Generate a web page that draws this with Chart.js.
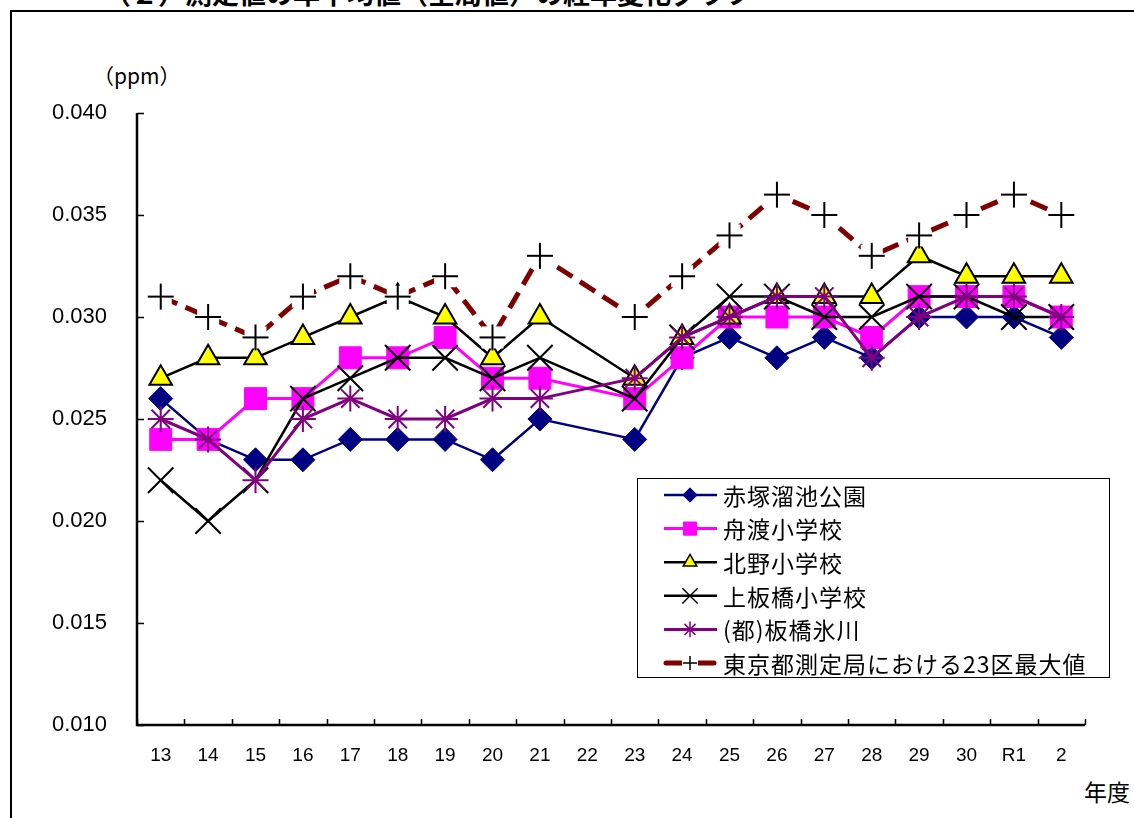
<!DOCTYPE html>
<html>
<head>
<meta charset="utf-8">
<script src="https://cdn.jsdelivr.net/npm/chart.js@4.4.1/dist/chart.umd.min.js"></script>
<style>
    html, body { margin: 0; padding: 0; background: #fff; }
    body { width: 1134px; height: 818px; position: relative; overflow: hidden; }
    #frame { position: absolute; left: 10px; top: 10px; width: 1130px; height: 820px;
             border-left: 2px solid #000; border-top: 2px solid #000; }
    #title { position: absolute; left: 104px; top: -27px; font: bold 27px "Noto Sans CJK JP"; white-space: nowrap; }
    #unit { position: absolute; left: 93px; top: 60px; font: 21px "Noto Sans CJK JP"; }
    #xname { position: absolute; left: 1084px; top: 774px; font: 23px "Noto Sans CJK JP"; }
    #wrap { position: absolute; left: 0; top: 0; width: 1134px; height: 818px; }
</style>
</head>
<body>
<div id="title">（２）測定値の年平均値（全局値）の経年変化グラフ</div>
<div id="frame"></div>
<div id="unit">（ppm）</div>
<div id="xname">年度</div>
<div id="wrap"><canvas id="chart"></canvas></div>
<script>
const years = ['13', '14', '15', '16', '17', '18', '19', '20', '21', '22', '23', '24', '25', '26', '27', '28', '29', '30', 'R1', '2'];
const yTicks = [0.010, 0.015, 0.020, 0.025, 0.030, 0.035, 0.040];

const akatsuka  = [0.026, 0.024, 0.023, 0.023, 0.024, 0.024, 0.024, 0.023, 0.025, null, 0.024, 0.028, 0.029, 0.028, 0.029, 0.028, 0.030, 0.030, 0.030, 0.029];
const funado    = [0.024, 0.024, 0.026, 0.026, 0.028, 0.028, 0.029, 0.027, 0.027, null, 0.026, 0.028, 0.030, 0.030, 0.030, 0.029, 0.031, 0.031, 0.031, 0.030];
const kitano    = [0.027, 0.028, 0.028, 0.029, 0.030, 0.031, 0.030, 0.028, 0.030, null, 0.027, 0.029, 0.030, 0.031, 0.031, 0.031, 0.033, 0.032, 0.032, 0.032];
const kamiita   = [0.022, 0.020, 0.022, 0.026, 0.027, 0.028, 0.028, 0.027, 0.028, null, 0.026, 0.029, 0.031, 0.031, 0.030, 0.030, 0.031, 0.031, 0.030, 0.030];
const hikawa    = [0.025, 0.024, 0.022, 0.025, 0.026, 0.025, 0.025, 0.026, 0.026, null, 0.027, 0.029, 0.030, 0.031, 0.031, 0.028, 0.030, 0.031, 0.031, 0.030];
const tokyoMax  = [0.031, 0.030, 0.029, 0.031, 0.032, 0.031, 0.032, 0.029, 0.033, null, 0.030, 0.032, 0.034, 0.036, 0.035, 0.033, 0.034, 0.035, 0.036, 0.035];

const names = ['赤塚溜池公園', '舟渡小学校', '北野小学校', '上板橋小学校', '(都)板橋氷川', '東京都測定局における23区最大値'];

// + marker with a white backing, like the original
function plusMarker() {
    const c = document.createElement('canvas');
    c.width = c.height = 28;
    const g = c.getContext('2d');
    g.fillStyle = '#fff';
    g.fillRect(3, 3, 22, 22);
    g.strokeStyle = '#000';
    g.lineWidth = 2;
    g.beginPath();
    g.moveTo(14, 1); g.lineTo(14, 27);
    g.moveTo(1, 14); g.lineTo(27, 14);
    g.stroke();
    return c;
}
const plus = plusMarker();

const datasets = [
    { label: names[0], data: akatsuka, borderColor: '#000080', borderWidth: 2.5, pointStyle: 'rectRot', pointRadius: 12,
      pointBackgroundColor: '#000080', pointBorderColor: '#000080', pointBorderWidth: 1, order: 6 },
    { label: names[1], data: funado, borderColor: '#ff00ff', borderWidth: 3, pointStyle: 'rect', pointRadius: 15.5,
      pointBackgroundColor: '#ff00ff', pointBorderColor: '#ff00ff', pointBorderWidth: 1, order: 5 },
    { label: names[2], data: kitano, borderColor: '#000', borderWidth: 2.5, pointStyle: 'triangle', pointRadius: 13,
      pointBackgroundColor: '#ffff00', pointBorderColor: '#000', pointBorderWidth: 2, order: 4 },
    { label: names[3], data: kamiita, borderColor: '#000', borderWidth: 2.5, pointStyle: 'crossRot', pointRadius: 18,
      pointBackgroundColor: '#000', pointBorderColor: '#000', pointBorderWidth: 2, order: 3 },
    { label: names[4], data: hikawa, borderColor: '#800080', borderWidth: 3, pointStyle: 'star', pointRadius: 13,
      pointBackgroundColor: '#800080', pointBorderColor: '#800080', pointBorderWidth: 2, order: 2 },
    { label: names[5], data: tokyoMax, borderColor: '#800000', borderWidth: 5, borderDash: [18, 9], pointStyle: plus,
      pointBackgroundColor: '#000', pointBorderColor: '#000', order: 1 }
];

const axesPlugin = {
    id: 'axes',
    beforeDatasetsDraw(c) {
        const ctx = c.ctx, a = c.chartArea;
        const xs = c.scales.x, ys = c.scales.y;
        ctx.save();
        ctx.strokeStyle = '#000';
        ctx.lineWidth = 1.5;
        ctx.beginPath();
        // inward ticks on y
        ys.ticks.forEach((t, i) => {
            const y = Math.round(ys.getPixelForTick(i)) + 0.5;
            ctx.moveTo(a.left, y); ctx.lineTo(a.left + 7, y);
        });
        // inward ticks on x at category boundaries
        for (let i = 0; i <= years.length; i++) {
            const x = Math.round(xs.getPixelForValue(i - 0.5)) + 0.5;
            ctx.moveTo(x, a.bottom); ctx.lineTo(x, a.bottom - 6);
        }
        ctx.stroke();
        ctx.lineWidth = 2.5;
        ctx.beginPath();
        ctx.moveTo(a.left, a.top);
        ctx.lineTo(a.left, a.bottom);
        ctx.lineTo(a.right, a.bottom);
        ctx.stroke();
        ctx.restore();
    },
    afterDraw(c) {
        const ctx = c.ctx;
        const box = { x: 637, y: 478, w: 472, h: 199 };
        ctx.save();
        ctx.fillStyle = '#fff';
        ctx.fillRect(box.x, box.y, box.w, box.h);
        ctx.strokeStyle = '#000';
        ctx.lineWidth = 1;
        ctx.strokeRect(box.x + 0.5, box.y + 0.5, box.w, box.h);
        ctx.font = '23px "Noto Sans CJK JP"';
        ctx.letterSpacing = '1px';
        ctx.textBaseline = 'middle';
        datasets.forEach((ds, i) => {
            const y = 495 + i * 33.6;
            ctx.save();
            ctx.strokeStyle = ds.borderColor;
            ctx.lineWidth = ds.borderWidth;
            if (ds.borderDash) ctx.setLineDash([20, 8]);
            ctx.lineCap = ds.borderDash ? 'round' : 'butt';
            ctx.beginPath();
            ctx.moveTo(ds.borderDash ? 666 : 664, y);
            ctx.lineTo(ds.borderDash ? 715 : 717, y);
            ctx.stroke();
            ctx.restore();
            if (typeof ds.pointStyle === 'string') {
                ctx.fillStyle = ds.pointBackgroundColor;
                ctx.strokeStyle = ds.pointBorderColor;
                ctx.lineWidth = ds.pointBorderWidth > 1 ? 1.5 : 1;
                Chart.helpers.drawPoint(ctx, { pointStyle: ds.pointStyle, radius: ds.pointRadius * 0.6, rotation: 0, borderWidth: ctx.lineWidth }, 690, y);
            } else {
                ctx.fillStyle = '#fff';
                ctx.fillRect(682, y - 8, 16, 16);
                ctx.strokeStyle = '#000';
                ctx.lineWidth = 1.5;
                ctx.beginPath();
                ctx.moveTo(690, y - 7); ctx.lineTo(690, y + 7);
                ctx.moveTo(683, y); ctx.lineTo(697, y);
                ctx.stroke();
            }
            ctx.fillStyle = '#000';
            ctx.fillText(ds.label, 723, y + 1);
        });
        ctx.restore();
    }
};

new Chart(document.getElementById('chart'), {
    type: 'line',
    data: { labels: years, datasets },
    options: {
        responsive: true,
        maintainAspectRatio: false,
        animation: false,
        spanGaps: true,
        layout: { padding: { left: 0, right: 49, top: 113, bottom: 43 } },
        elements: { line: { tension: 0 } },
        plugins: { legend: { display: false }, tooltip: { enabled: false } },
        scales: {
            x: {
                offset: true,
                grid: { display: false, drawTicks: false },
                border: { display: false },
                ticks: { color: '#000', font: { family: 'Liberation Sans', size: 19 }, padding: 19, maxRotation: 0, autoSkip: false },
                afterFit: s => { s.height = 50; }
            },
            y: {
                min: 0.010,
                max: 0.040,
                afterBuildTicks: s => { s.ticks = yTicks.map(v => ({ value: v })); },
                grid: { display: false, drawTicks: false },
                border: { display: false },
                ticks: { color: '#000', font: { family: 'Liberation Sans', size: 22 }, padding: 30,
                         callback: v => v.toFixed(3) },
                afterFit: s => { s.width = 137; }
            }
        }
    },
    plugins: [axesPlugin]
});
</script>
</body>
</html>
